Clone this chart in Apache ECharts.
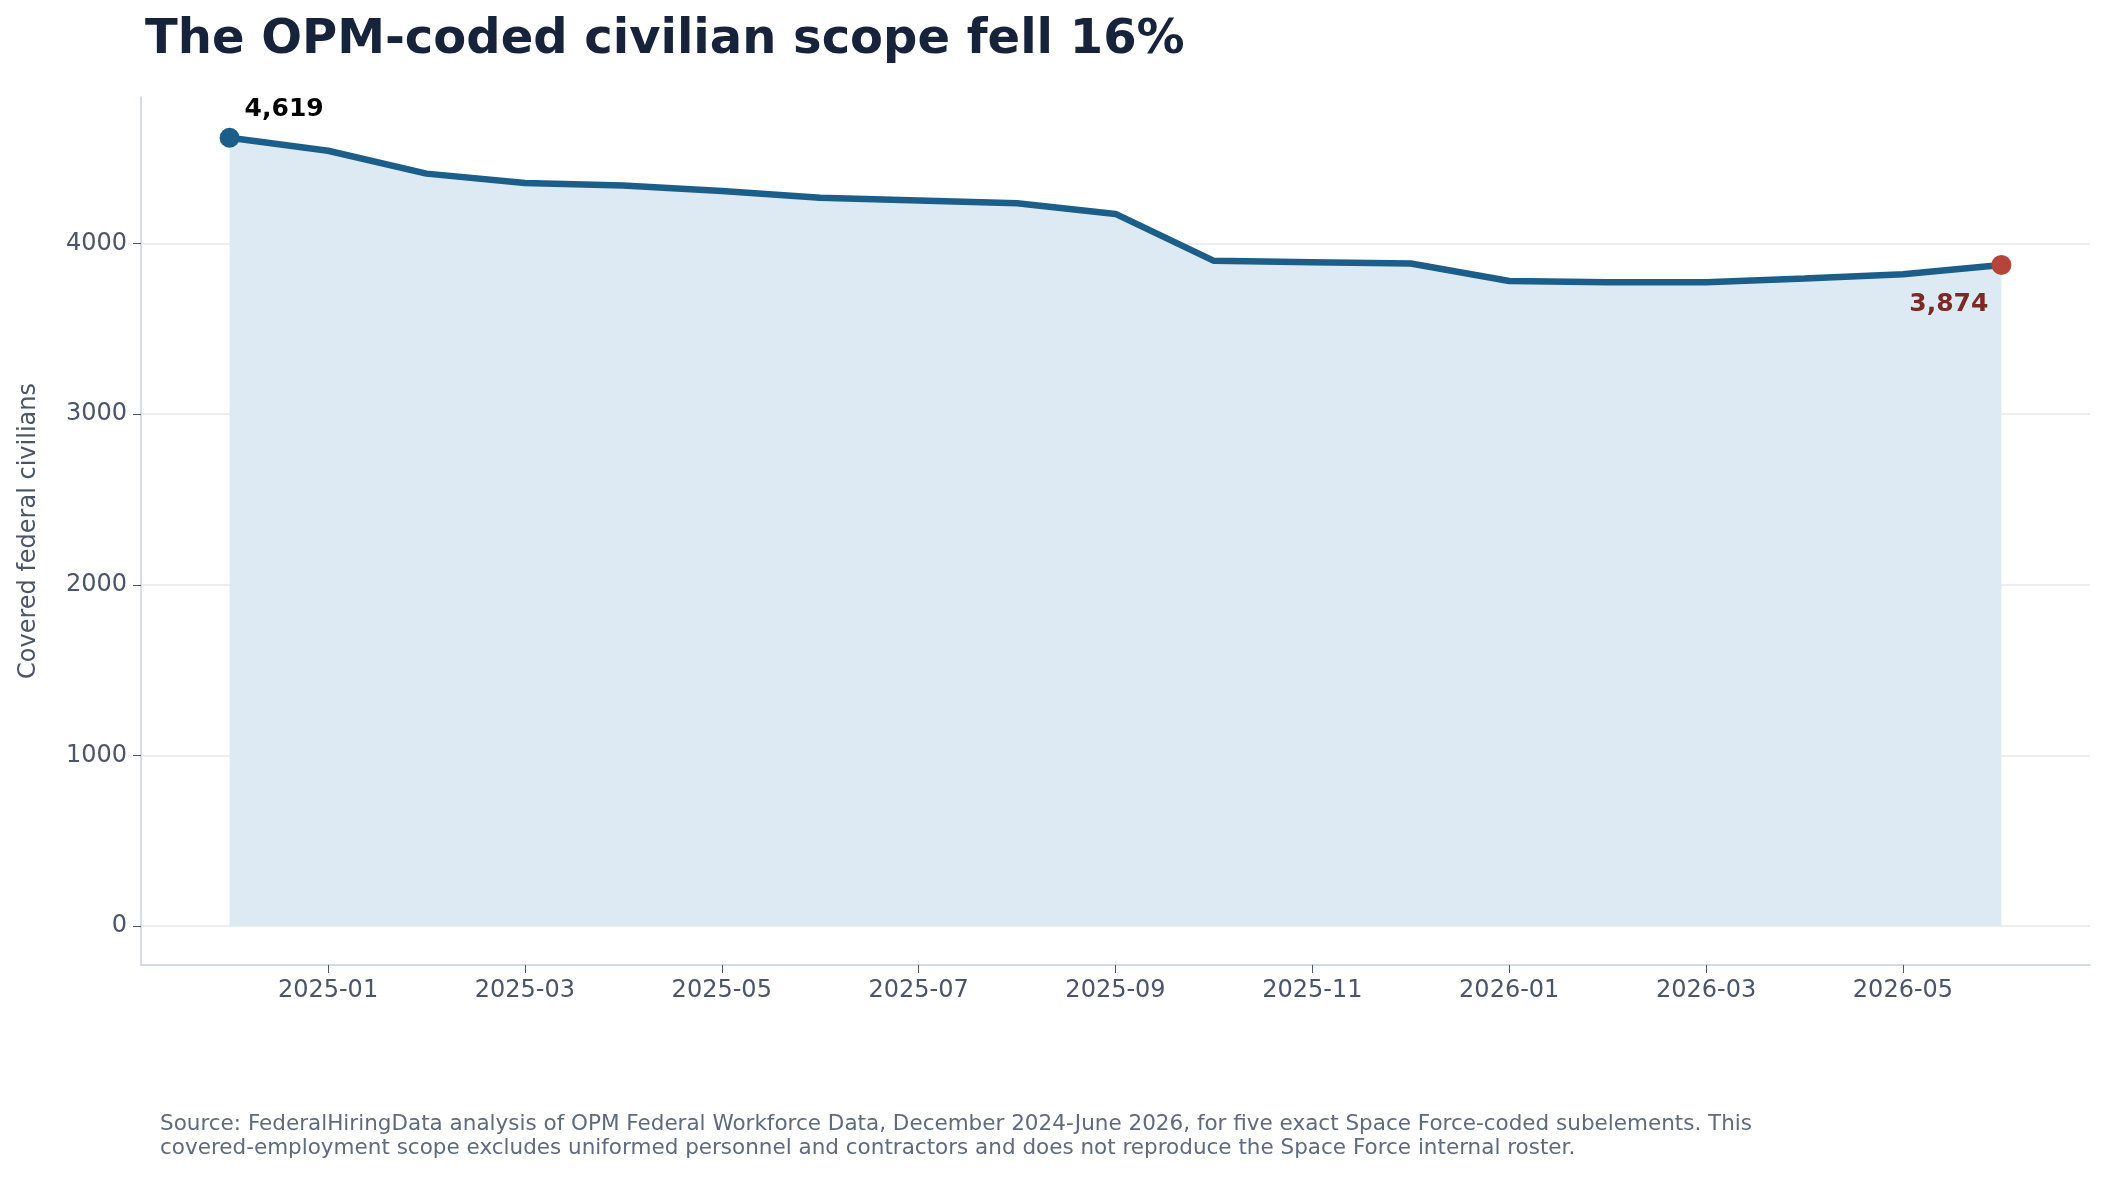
<!DOCTYPE html>
<html><head><meta charset="utf-8">
<script src="https://cdn.jsdelivr.net/npm/echarts@6/dist/echarts.min.js"></script>
<style>html,body{margin:0;padding:0;background:#fff}#c{width:2108px;height:1178px}</style>
</head><body><div id="c"></div>
<script>
// month index: 0 = 2025-01
const months = ['2024-12','2025-01','2025-02','2025-03','2025-04','2025-05','2025-06','2025-07','2025-08','2025-09','2025-10','2025-11','2025-12','2026-01','2026-02','2026-03','2026-04','2026-05','2026-06']
const civilians = [4619,4543,4409,4354,4339,4307,4268,4252,4236,4173,3898,3890,3882,3780,3772,3772,3795,3819,3874]
const xTicks = [0,2,4,6,8,10,12,14,16]
const yTicks = [0,1000,2000,3000,4000]

const pts = civilians.map((v, i) => [i - 1, v])
const last = pts.length - 1
const font = 'DejaVu Sans'

const chart = echarts.init(document.getElementById('c'))
chart.setOption({
    animation: false,
    textStyle: {fontFamily: font},
    title: {
        text: 'The OPM-coded civilian scope fell 16%',
        left: 140, top: 12,
        textStyle: {fontSize: 48, fontWeight: 'bold', color: '#17233a', fontFamily: font}
    },
    graphic: [{
        type: 'text', left: 160, top: 1112,
        style: {
            text: 'Source: FederalHiringData analysis of OPM Federal Workforce Data, December 2024-June 2026, for five exact Space Force-coded subelements. This\ncovered-employment scope excludes uniformed personnel and contractors and does not reproduce the Space Force internal roster.',
            font: '21.5px DejaVu Sans', fill: '#5f6b7c', lineHeight: 24
        }
    }],
    grid: {left: 141, right: 18, top: 97, bottom: 213},
    xAxis: {
        type: 'value', min: -1.9, max: 17.9,
        axisLine: {onZero: false, lineStyle: {color: '#c8d0e0', width: 1.5}},
        axisTick: {show: true, customValues: xTicks, length: 8, lineStyle: {color: '#4a5568'}},
        axisLabel: {customValues: xTicks, fontSize: 24, color: '#4a5568', margin: 14,
            formatter: v => months[Math.round(v) + 1]},
        splitLine: {show: false}
    },
    yAxis: {
        type: 'value', min: -228, max: 4858,
        name: 'Covered federal civilians', nameLocation: 'middle', nameGap: 100,
        nameTextStyle: {fontSize: 24, color: '#4a5568'},
        axisLine: {show: true, onZero: false, lineStyle: {color: '#c8d0e0', width: 1.5}},
        axisTick: {show: true, customValues: yTicks, length: 8, lineStyle: {color: '#4a5568'}},
        axisLabel: {customValues: yTicks, fontSize: 24, color: '#4a5568', margin: 14,
            formatter: v => String(v)},
        splitLine: {show: true, lineStyle: {color: '#e6e9ef', width: 1.5}}
    },
    series: [{
        type: 'line', data: pts, symbol: 'none',
        lineStyle: {color: '#1b5e8a', width: 6.5},
        areaStyle: {color: '#ddeaf3', opacity: 1, origin: 0},
        z: 2
    }, {
        type: 'scatter', symbolSize: 20, z: 5,
        itemStyle: {opacity: 1},
        data: [{
            value: pts[0], itemStyle: {color: '#1b5e8a', opacity: 1},
            label: {show: true, position: 'right', offset: [0, -28], formatter: '4,619',
                fontSize: 25, fontWeight: 'bold', color: '#000'}
        }, {
            value: pts[last], itemStyle: {color: '#b5443a', opacity: 1},
            label: {show: true, position: 'left', offset: [2, 40], formatter: '3,874',
                fontSize: 25, fontWeight: 'bold', color: '#7a2a22'}
        }]
    }]
})
</script></body></html>
